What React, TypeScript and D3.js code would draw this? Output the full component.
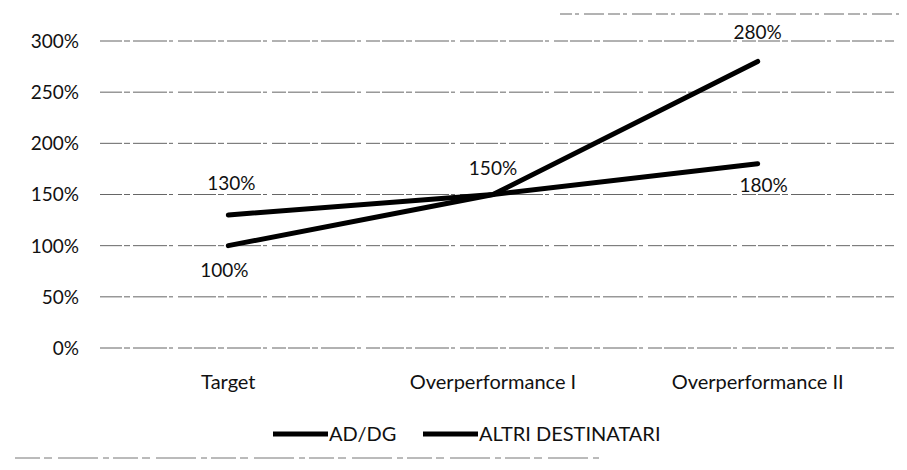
import React, { useEffect, useRef } from 'react';
import * as d3 from 'd3';

const categories = ['Target', 'Overperformance I', 'Overperformance II'];
const seriesNames = ['AD/DG', 'ALTRI DESTINATARI'];
const adDg = [100, 150, 280];
const altri = [130, 150, 180];
const yTicks = [0, 50, 100, 150, 200, 250, 300];

const App: React.FC = () => {
  const svgRef = useRef<SVGSVGElement>(null);

  useEffect(() => {
    if (!svgRef.current) return;
    d3.select(svgRef.current).selectAll('*').remove();

    const width = 907;
    const height = 470;
    const gridLeft = 100;
    const gridRight = 894;
    const top = 41;
    const bottom = 348;
    const font = 'Lato, "Open Sans", sans-serif';
    const ink = '#111';

    const svg = d3.select(svgRef.current)
      .attr('width', width)
      .attr('height', height)
      .style('display', 'block')
      .style('background', '#fff');

    const x = d3.scaleBand().domain(categories).range([96, 890]);
    const y = d3.scaleLinear().domain([0, 300]).range([bottom, top]);
    const cx = (i: number) => x(categories[i])! + x.bandwidth() / 2;

    // faint scan edges
    svg.append('line')
      .attr('x1', 560).attr('x2', 905).attr('y1', 14).attr('y2', 14)
      .attr('stroke', '#666').attr('stroke-width', 1)
      .attr('stroke-dasharray', '12,3,4,5,20,4');
    svg.append('line')
      .attr('x1', 15).attr('x2', 600).attr('y1', 458).attr('y2', 458)
      .attr('stroke', '#777').attr('stroke-width', 1)
      .attr('stroke-dasharray', '25,4,8,6,40,5,6,4');

    // grid lines (broken dashes like the scan) and y labels
    yTicks.forEach(t => {
      svg.append('line')
        .attr('x1', gridLeft).attr('x2', gridRight)
        .attr('y1', y(t)).attr('y2', y(t))
        .attr('stroke', '#333')
        .attr('stroke-width', 1)
        .attr('stroke-dasharray', '22,2,6,3,34,2,4,5,14,2')
        .attr('opacity', 0.75);

      svg.append('text')
        .attr('x', 79)
        .attr('y', y(t))
        .attr('dy', '0.36em')
        .attr('text-anchor', 'end')
        .attr('font-family', font)
        .attr('font-size', 19)
        .attr('fill', ink)
        .text(`${t}%`);
    });

    // category labels
    categories.forEach((c, i) => {
      svg.append('text')
        .attr('x', cx(i))
        .attr('y', 389)
        .attr('text-anchor', 'middle')
        .attr('font-family', font)
        .attr('font-size', 20)
        .attr('fill', ink)
        .text(c);
    });

    const line = d3.line<number>()
      .x((_, i) => cx(i))
      .y(d => y(d));

    [adDg, altri].forEach(s => {
      svg.append('path')
        .attr('d', line(s))
        .attr('fill', 'none')
        .attr('stroke', '#000')
        .attr('stroke-width', 5)
        .attr('stroke-linecap', 'round');
    });

    // data labels: [category index, value, baseline offset, x offset]
    const labels: [number, number, number, number][] = [
      [0, altri[0], -25, 3],
      [0, adDg[0], 31, -4],
      [1, adDg[1], -20, 0],
      [2, adDg[2], -22, 0],
      [2, altri[2], 28, 6],
    ];
    labels.forEach(([i, v, dy, dx]) => {
      svg.append('text')
        .attr('x', cx(i) + dx)
        .attr('y', y(v) + dy)
        .attr('text-anchor', 'middle')
        .attr('font-family', font)
        .attr('font-size', 19)
        .attr('fill', ink)
        .text(`${v}%`);
    });

    // legend
    const legendX = [273, 423];
    seriesNames.forEach((n, i) => {
      svg.append('line')
        .attr('x1', legendX[i]).attr('x2', legendX[i] + 55)
        .attr('y1', 434).attr('y2', 434)
        .attr('stroke', '#000')
        .attr('stroke-width', 5);
      svg.append('text')
        .attr('x', legendX[i] + 56)
        .attr('y', 434)
        .attr('dy', '0.36em')
        .attr('font-family', font)
        .attr('font-size', 20)
        .attr('fill', ink)
        .text(n);
    });
  }, []);

  return (
    <div style={{ margin: -8 }}>
      <svg ref={svgRef}></svg>
    </div>
  );
};

export default App;
